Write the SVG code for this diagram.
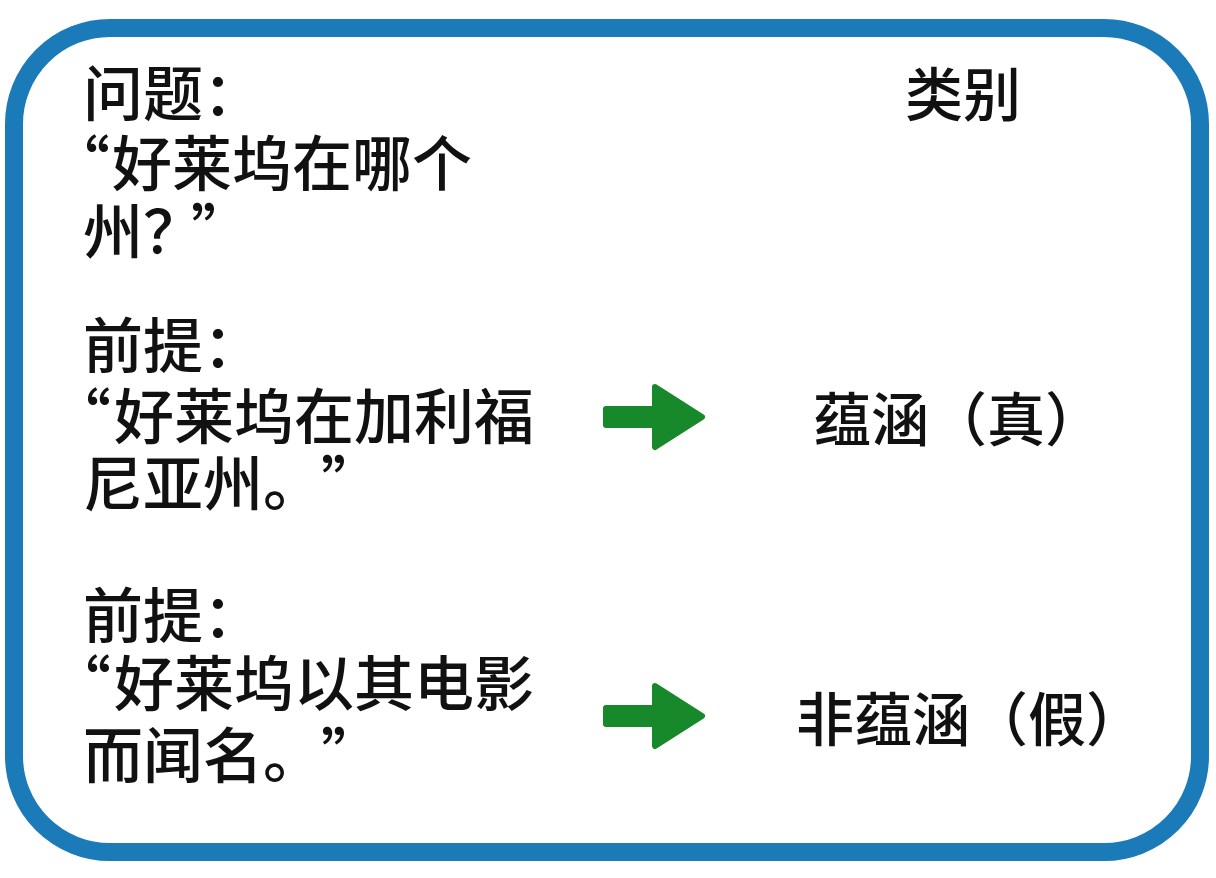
<svg xmlns="http://www.w3.org/2000/svg" width="1216" height="878" viewBox="0 0 1216 878">
<style>
.t{font-family:"Noto Sans CJK SC","Noto Sans CJK JP",sans-serif;font-weight:500;fill:#111;}
.l{font-size:60px;}
.r{font-size:58px;}
.arr{fill:#17892a;stroke:#17892a;stroke-linejoin:round;}
</style>
<defs>
<path id="arrow" d="M606 -8 H655 V-30 L702 0 L655 30 V8 H606 Z"/>
</defs>
<rect x="0" y="0" width="1216" height="878" fill="#ffffff"/>
<g id="frame">
<rect x="14" y="28" width="1186" height="824" rx="96" ry="96" fill="none" stroke="#1b7bb8" stroke-width="18"/>
</g>
<g id="question">
<text class="t l" x="83" y="116">问题：</text>
<text class="t l" y="186"><tspan x="50">“</tspan><tspan x="112">好莱坞在哪个</tspan></text>
<text class="t l" y="254"><tspan x="83">州？</tspan><tspan x="191">”</tspan></text>
</g>
<g id="header">
<text class="t r" x="905" y="116">类别</text>
</g>
<g id="premise1">
<text class="t l" x="83" y="368">前提：</text>
<text class="t l" y="439"><tspan x="51">“</tspan><tspan x="114">好莱坞在加利福</tspan></text>
<text class="t l" y="506"><tspan x="83">尼亚州。</tspan><tspan x="321">”</tspan></text>
</g>
<g id="label1">
<text class="t r" x="813" y="441">蕴涵（真）</text>
</g>
<g id="premise2">
<text class="t l" x="83" y="638">前提：</text>
<text class="t l" y="706"><tspan x="51">“</tspan><tspan x="114">好莱坞以其电影</tspan></text>
<text class="t l" y="778"><tspan x="83">而闻名。</tspan><tspan x="321">”</tspan></text>
</g>
<g id="label2">
<text class="t r" x="796" y="741">非蕴涵（假）</text>
</g>
<g id="connectors">
<use href="#arrow" class="arr" stroke-width="6" transform="translate(0,417)"/>
<use href="#arrow" class="arr" stroke-width="6" transform="translate(0,716)"/>
</g>
</svg>
